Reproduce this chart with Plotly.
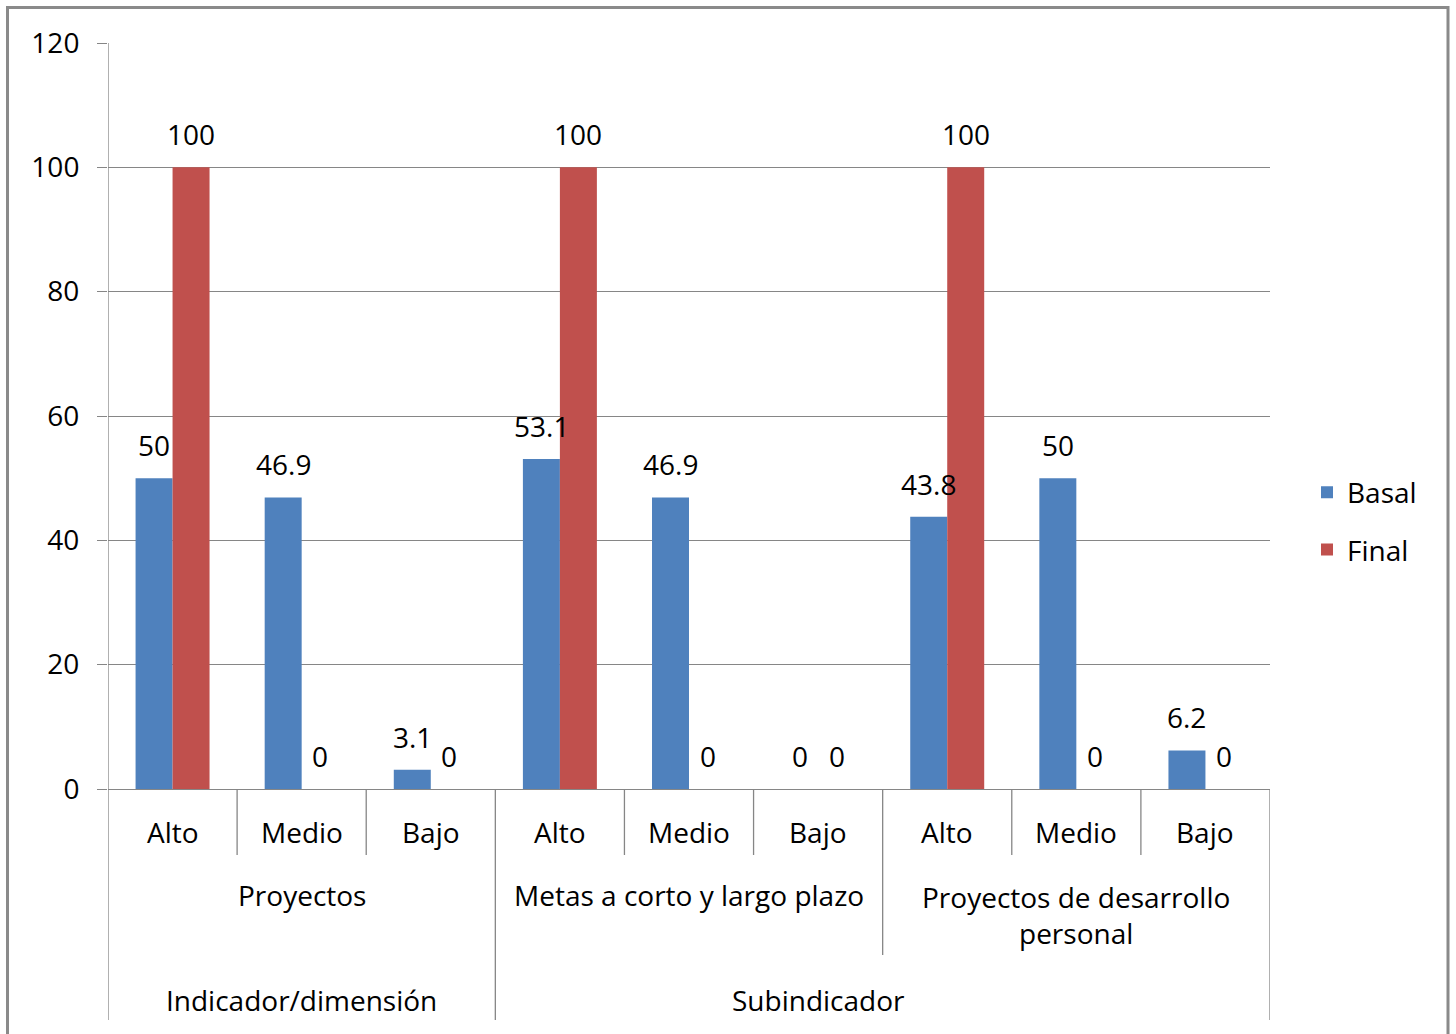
import plotly.graph_objects as go

# ---- data ----
level1 = ["Alto", "Medio", "Bajo", "Alto", "Medio", "Bajo", "Alto", "Medio", "Bajo"]
level2 = ["Proyectos", "Metas a corto y largo plazo", "Proyectos de desarrollo<br>personal"]
level3 = ["Indicador/dimensión", "Subindicador"]
basal = [50, 46.9, 3.1, 53.1, 46.9, 0, 43.8, 50, 6.2]
final = [100, 0, 0, 100, 0, 0, 100, 0, 0]
y_ticks = [0, 20, 40, 60, 80, 100, 120]

FONT = "Open Sans"
FS = 28
GRID = "#868686"
BARGAP = 0.427
xs = list(range(len(level1)))
half = (1 - BARGAP) / 4  # center offset of each bar in a group

fig = go.Figure()
fig.add_trace(go.Bar(x=xs, y=basal, name="Basal",
                     marker=dict(color="#4F81BD", line=dict(width=0)), legendgroup="a"))
fig.add_trace(go.Bar(x=xs, y=final, name="Final",
                     marker=dict(color="#C0504D", line=dict(width=0)), legendgroup="b"))

plot_h = 746.0


def py(pix_below):
    return -pix_below / plot_h


shapes = []
for b in [0.5, 1.5, 3.5, 4.5, 6.5, 7.5]:
    shapes.append(dict(type="line", xref="x", yref="paper", x0=b, x1=b, y0=0, y1=py(66),
                       line=dict(color=GRID, width=1.3)))
shapes.append(dict(type="line", xref="x", yref="paper", x0=5.5, x1=5.5, y0=0, y1=py(166),
                   line=dict(color=GRID, width=1.3)))
for b in [-0.5, 2.5, 8.5]:
    y_top = 1 if b == -0.5 else 0
    shapes.append(dict(type="line", xref="x", yref="paper", x0=b, x1=b, y0=y_top, y1=py(231),
                       line=dict(color=GRID, width=1.3)))
# outer frame
shapes.append(dict(type="rect", xref="paper", yref="paper",
                   x0=(7.5 - 108) / 1162, x1=(1448 - 108) / 1162,
                   y0=py(270), y1=1 + 35.5 / plot_h,
                   line=dict(color="#8a8a8a", width=3), fillcolor="rgba(0,0,0,0)", layer="below"))

annotations = []
tf = dict(family=FONT, size=FS, color="black")
# data labels
for i, v in enumerate(basal):
    annotations.append(dict(x=i - half, y=v, xref="x", yref="y", text=f"{v:g}", showarrow=False,
                            font=tf, xanchor="center", yanchor="middle", yshift=33))
for i, v in enumerate(final):
    annotations.append(dict(x=i + half, y=v, xref="x", yref="y", text=f"{v:g}", showarrow=False,
                            font=tf, xanchor="center", yanchor="middle", yshift=33))
for i, t in enumerate(level1):
    annotations.append(dict(x=i, y=py(43), xref="x", yref="paper", text=t, showarrow=False,
                            font=tf, xanchor="center", yanchor="middle"))
for g, t in enumerate(level2):
    yy = py(126) if "<br>" in t else py(106)
    annotations.append(dict(x=3 * g + 1, y=yy, xref="x", yref="paper", text=t, showarrow=False,
                            font=tf, xanchor="center", yanchor="middle", align="center"))
annotations.append(dict(x=1, y=py(211), xref="x", yref="paper", text=level3[0], showarrow=False,
                        font=tf, xanchor="center", yanchor="middle"))
annotations.append(dict(x=5, y=py(211), xref="x", yref="paper", text=level3[1], showarrow=False,
                        font=tf, xanchor="center", yanchor="middle"))

fig.update_layout(
    width=1456, height=1034,
    margin=dict(l=108, r=186, t=43, b=245),
    paper_bgcolor="white", plot_bgcolor="white",
    barmode="group", bargap=BARGAP, bargroupgap=0,
    font=dict(family=FONT, size=FS, color="black"),
    showlegend=True,
    legend=dict(x=(1307 - 108) / 1162, y=(789 - 521) / plot_h, xanchor="left", yanchor="middle",
                font=tf, tracegroupgap=18, bgcolor="rgba(0,0,0,0)"),
    xaxis=dict(range=[-0.5, 8.5], tickvals=xs, ticktext=[""] * len(xs), showgrid=False,
               showline=True, linecolor=GRID, linewidth=1.3, ticks="", zeroline=False),
    yaxis=dict(range=[0, 120], tickvals=y_ticks, showgrid=True, gridcolor=GRID, gridwidth=1.3,
               ticks="outside", ticklen=10, tickcolor=GRID, tickwidth=1.3,
               showline=False, zeroline=False, ticklabelstandoff=12,
               tickfont=tf),
    shapes=shapes, annotations=annotations,
)

fig.write_html("out.html", config={"displayModeBar": False},
               post_script="document.body.style.margin='0';document.body.style.overflow='hidden';")
